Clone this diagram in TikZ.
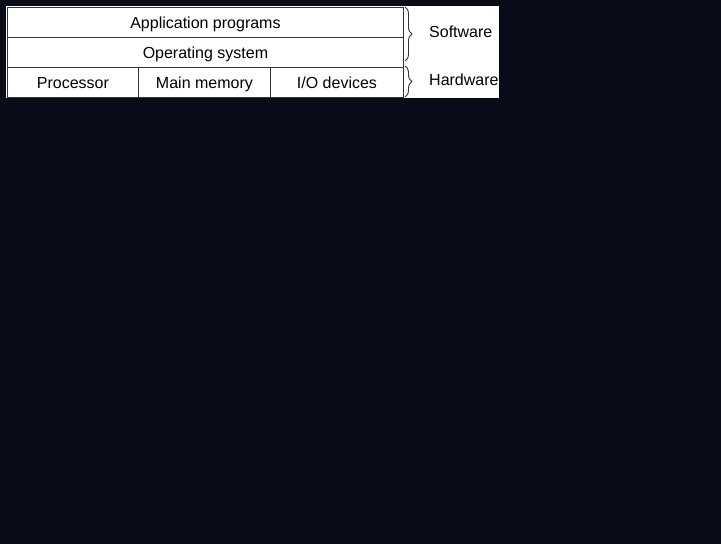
\documentclass[tikz,border=0pt]{standalone}
\usepackage{fontspec}
\setmainfont{Liberation Sans}
\usetikzlibrary{decorations.pathreplacing}
\definecolor{bgc}{HTML}{0A0B18}
\definecolor{linec}{HTML}{333333}
\begin{document}
\begin{tikzpicture}[x=1pt,y=-1pt,
  cell/.style={draw=linec,line width=0.9pt,minimum height=30pt,inner sep=0pt,text height=13pt,text depth=1.5pt,font=\fontsize{16}{18}\selectfont,text=black},
  lbl/.style={font=\fontsize{16}{18}\selectfont,text=black,anchor=west,inner sep=0pt,text height=13pt,text depth=1.5pt},
  brc/.style={draw=linec,line width=0.9pt,decorate,decoration={brace,amplitude=7pt,aspect=0.5}}]
\useasboundingbox (0,0) rectangle (721,544);
\fill[bgc] (0,0) rectangle (721,544);
\fill[white] (6,6) rectangle (499,98);
\node[cell,minimum width=396pt,anchor=north west] (app) at (7,7) {Application programs};
\node[cell,minimum width=396pt,anchor=north west] (os) at (7,37) {Operating system};
\node[cell,minimum width=131pt,anchor=north west] (proc) at (7,67) {Processor};
\node[cell,minimum width=132pt,anchor=north west] (mem) at (138,67) {Main memory};
\node[cell,minimum width=133pt,anchor=north west] (io) at (270,67) {I/O devices};
\coordinate (s1) at (405,7);
\coordinate (s2) at (405,61);
\coordinate (h1) at (405,66);
\coordinate (h2) at (405,97);
\draw[brc] (s1) -- (s2);
\draw[brc] (h1) -- (h2);
\node[lbl] (sw) at (429,32) {Software};
\node[lbl] (hw) at (429,80) {Hardware};
\end{tikzpicture}
\end{document}
